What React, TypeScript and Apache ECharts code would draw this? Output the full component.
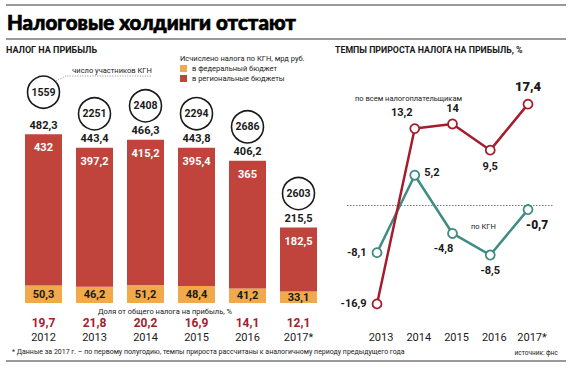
import React, { useEffect, useRef } from "react";
import * as echarts from "echarts";

const years = ["2012", "2013", "2014", "2015", "2016", "2017*"];
const federal = [50.3, 46.2, 51.2, 48.4, 41.2, 33.1];
const regional = [432, 397.2, 415.2, 395.4, 365, 182.5];
const totals = [482.3, 443.4, 466.3, 443.8, 406.2, 215.5];
const participants = [1559, 2251, 2408, 2294, 2686, 2603];
const shares = [19.7, 21.8, 20.2, 16.9, 14.1, 12.1];

const growthYears = ["2013", "2014", "2015", "2016", "2017*"];
const growthAll = [-16.9, 13.2, 14, 9.5, 17.4];
const growthKGN = [-8.1, 5.2, -4.8, -8.5, -0.7];
const zeroLine = [[0, 0], [1, 0]];

const RED = "#c0443c";
const ORANGE = "#f0aa4c";
const DARKRED = "#a51d2d";
const TEAL = "#3e8c83";
const INK = "#1a1a1a";
const FONT = "Roboto";

const fmt = (v: number) => String(v).replace(".", ",");

const allLabels = [
  { position: "left", distance: 5 },
  { position: "top", offset: [-13, 0], distance: 5 },
  { position: "top", distance: 5 },
  { position: "bottom", distance: 5 },
  { position: "top", distance: 6, fontSize: 13, fontWeight: 900 },
];
const kgnLabels = [
  { position: "left", distance: 5 },
  { position: "right", offset: [0, -3], distance: 4 },
  { position: "bottom", offset: [-9, 0], distance: 4 },
  { position: "bottom", distance: 5 },
  { position: "bottom", offset: [9, 0], distance: 4, fontSize: 12, fontWeight: 900 },
];

export default function App() {
  const ref = useRef<HTMLDivElement>(null);
  useEffect(() => {
    const chart = echarts.init(ref.current!, null, { renderer: "svg" });
    const option: any = {
      animation: false,
      backgroundColor: "#ffffff",
      textStyle: { fontFamily: FONT },
      grid: [
        { left: 18, right: 246, top: 93, bottom: 66 },
        { left: 377, right: 42, top: 89, bottom: 47 },
        { left: 347, right: 17, top: 89, bottom: 47 },
      ],
      xAxis: [
        {
          type: "category",
          gridIndex: 0,
          data: years,
          axisLine: { show: false },
          axisTick: { show: false },
          axisLabel: {
            interval: 0,
            margin: 12,
            formatter: (val: string, i: number) => `{s|${fmt(shares[i])}}\n{y|${val}}`,
            rich: {
              s: { fontFamily: FONT, fontSize: 12, fontWeight: "bold", color: DARKRED, lineHeight: 15 },
              y: { fontFamily: FONT, fontSize: 11, color: INK, lineHeight: 15 },
            },
          },
        },
        {
          type: "category",
          gridIndex: 1,
          data: growthYears,
          boundaryGap: false,
          axisLine: { show: false },
          axisTick: { show: false },
          axisLabel: {
            interval: 0,
            margin: 10,
            fontFamily: FONT,
            fontSize: 11,
            color: INK,
            padding: [0, 0, 0, 8],
          },
        },
        { type: "value", gridIndex: 2, min: 0, max: 1, show: false },
      ],
      yAxis: [
        { type: "value", gridIndex: 0, min: 0, max: 600, show: false },
        { type: "value", gridIndex: 1, min: -20, max: 20, show: false },
        { type: "value", gridIndex: 2, min: -20, max: 20, show: false },
      ],
      series: [
        {
          type: "bar",
          name: "в федеральный бюджет",
          stack: "tax",
          xAxisIndex: 0,
          yAxisIndex: 0,
          barWidth: 37,
          data: federal,
          itemStyle: { color: ORANGE },
          label: {
            show: true,
            position: "inside",
            formatter: (p: any) => fmt(p.value),
            fontFamily: FONT,
            fontSize: 11,
            fontWeight: "bold",
            color: INK,
          },
        },
        {
          type: "bar",
          name: "в региональные бюджеты",
          stack: "tax",
          xAxisIndex: 0,
          yAxisIndex: 0,
          barWidth: 37,
          data: regional,
          itemStyle: { color: RED },
          label: {
            show: true,
            position: "insideTop",
            distance: 8,
            formatter: (p: any) => fmt(p.value),
            fontFamily: FONT,
            fontSize: 11,
            fontWeight: "bold",
            color: "#ffffff",
          },
        },
        {
          type: "custom",
          xAxisIndex: 0,
          yAxisIndex: 0,
          clip: false,
          silent: true,
          z: 5,
          data: totals.map((t, i) => [i, t, participants[i]]),
          encode: { x: 0, y: 1 },
          renderItem: (params: any, api: any) => {
            const idx = api.value(0);
            const tot = api.value(1);
            const cnt = api.value(2);
            const pt = api.coord([idx, tot]);
            const lift = params.dataIndex === 0 ? 42 : 34;
            return {
              type: "group",
              children: [
                {
                  type: "text",
                  style: {
                    text: fmt(tot),
                    x: pt[0],
                    y: pt[1] - 9,
                    align: "center",
                    verticalAlign: "middle",
                    fontFamily: FONT,
                    fontSize: 11,
                    fontWeight: "bold",
                    fill: INK,
                  },
                },
                {
                  type: "circle",
                  shape: { cx: pt[0], cy: pt[1] - lift, r: 16 },
                  style: { fill: "#ffffff", stroke: INK, lineWidth: 1.6 },
                },
                {
                  type: "text",
                  style: {
                    text: String(cnt),
                    x: pt[0],
                    y: pt[1] - lift,
                    align: "center",
                    verticalAlign: "middle",
                    fontFamily: FONT,
                    fontSize: 10.5,
                    fontWeight: "bold",
                    fill: INK,
                  },
                },
              ],
            };
          },
        },
        {
          type: "line",
          xAxisIndex: 2,
          yAxisIndex: 2,
          data: zeroLine,
          symbol: "none",
          silent: true,
          z: 1,
          lineStyle: { color: "#777777", width: 1, type: [1.5, 1.5] },
        },
        {
          type: "line",
          name: "по КГН",
          xAxisIndex: 1,
          yAxisIndex: 1,
          data: growthKGN.map((v, i) => ({ value: v, label: kgnLabels[i] })),
          symbol: "circle",
          symbolSize: 9,
          z: 3,
          lineStyle: { color: TEAL, width: 2.5 },
          itemStyle: { color: "#ffffff", borderColor: TEAL, borderWidth: 1.8 },
          label: {
            show: true,
            formatter: (p: any) => fmt(p.value),
            fontFamily: FONT,
            fontSize: 11,
            fontWeight: "bold",
            color: INK,
          },
        },
        {
          type: "line",
          name: "по всем налогоплательщикам",
          xAxisIndex: 1,
          yAxisIndex: 1,
          data: growthAll.map((v, i) => ({ value: v, label: allLabels[i] })),
          symbol: "circle",
          symbolSize: 9,
          z: 4,
          lineStyle: { color: DARKRED, width: 2.5 },
          itemStyle: { color: "#ffffff", borderColor: DARKRED, borderWidth: 1.8 },
          label: {
            show: true,
            formatter: (p: any) => fmt(p.value),
            fontFamily: FONT,
            fontSize: 11,
            fontWeight: "bold",
            color: INK,
          },
        },
      ],
      graphic: [
        { type: "line", shape: { x1: 6, y1: 5, x2: 566, y2: 5 }, style: { stroke: "#9a9a9a", lineWidth: 2 } },
        {
          type: "text",
          x: 7,
          y: 22,
          style: {
            text: "Налоговые холдинги отстают",
            fontFamily: "Lato",
            fontSize: 20.5,
            fontWeight: 900,
            fill: "#000000",
            stroke: "#000000",
            lineWidth: 0.7,
            verticalAlign: "middle",
          },
        },
        { type: "line", shape: { x1: 6, y1: 39, x2: 566, y2: 39 }, style: { stroke: "#9a9a9a", lineWidth: 2 } },
        {
          type: "text",
          x: 6,
          y: 50,
          style: { text: "НАЛОГ НА ПРИБЫЛЬ", fontFamily: FONT, fontSize: 9, fontWeight: "bold", fill: INK, verticalAlign: "middle" },
        },
        {
          type: "text",
          x: 335,
          y: 50,
          style: {
            text: "ТЕМПЫ ПРИРОСТА НАЛОГА НА ПРИБЫЛЬ, %",
            fontFamily: FONT,
            fontSize: 8.8,
            fontWeight: "bold",
            fill: INK,
            verticalAlign: "middle",
          },
        },
        {
          type: "text",
          x: 180,
          y: 58,
          style: { text: "Исчислено налога по КГН, мрд руб.", fontFamily: FONT, fontSize: 7.5, fill: INK, verticalAlign: "middle" },
        },
        { type: "rect", shape: { x: 180, y: 65, width: 7, height: 7 }, style: { fill: ORANGE } },
        {
          type: "text",
          x: 192,
          y: 68.5,
          style: { text: "в федеральный бюджет", fontFamily: FONT, fontSize: 7.5, fill: INK, verticalAlign: "middle" },
        },
        { type: "rect", shape: { x: 180, y: 75, width: 7, height: 7 }, style: { fill: RED } },
        {
          type: "text",
          x: 192,
          y: 78.5,
          style: { text: "в региональные бюджеты", fontFamily: FONT, fontSize: 7.5, fill: INK, verticalAlign: "middle" },
        },
        {
          type: "text",
          x: 112,
          y: 70,
          style: { text: "число участников КГН", fontFamily: FONT, fontSize: 7.5, fill: INK, align: "center", verticalAlign: "middle" },
        },
        {
          type: "polyline",
          shape: { points: [[56, 81], [66, 76], [152, 76]] },
          style: { stroke: "#888888", lineWidth: 1, lineDash: [1, 1.5], fill: null },
        },
        {
          type: "text",
          x: 165,
          y: 311,
          style: {
            text: "Доля от общего налога на прибыль, %",
            fontFamily: FONT,
            fontSize: 7.5,
            fill: INK,
            align: "center",
            verticalAlign: "middle",
          },
        },
        {
          type: "text",
          x: 355,
          y: 98,
          style: { text: "по всем налогоплательщикам", fontFamily: FONT, fontSize: 7.5, fill: INK, verticalAlign: "middle" },
        },
        {
          type: "text",
          x: 471,
          y: 226,
          style: { text: "по КГН", fontFamily: FONT, fontSize: 7.5, fill: INK, verticalAlign: "middle" },
        },
        {
          type: "text",
          x: 12,
          y: 352,
          style: {
            text: "* Данные за 2017 г. – по первому полугодию, темпы прироста рассчитаны к аналогичному периоду предыдущего года",
            fontFamily: FONT,
            fontSize: 7,
            fill: INK,
            verticalAlign: "middle",
          },
        },
        {
          type: "text",
          x: 558,
          y: 353,
          style: { text: "источник: фнс", fontFamily: FONT, fontSize: 6.5, fill: INK, align: "right", verticalAlign: "middle" },
        },
        { type: "line", shape: { x1: 6, y1: 361, x2: 566, y2: 361 }, style: { stroke: "#9a9a9a", lineWidth: 2 } },
      ],
    };
    chart.setOption(option);
    return () => chart.dispose();
  }, []);
  return (
    <div
      ref={ref}
      style={{ position: "absolute", left: 0, top: 0, width: 570, height: 369, background: "#fff" }}
    />
  );
}
